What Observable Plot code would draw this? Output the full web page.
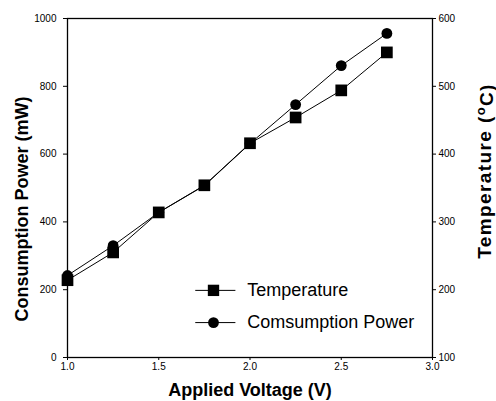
<!DOCTYPE html>
<html>
<head>
<meta charset="utf-8">
<script src="https://cdn.jsdelivr.net/npm/d3@7"></script>
<script src="https://cdn.jsdelivr.net/npm/@observablehq/plot@0.6"></script>
<style>
  html, body { margin: 0; padding: 0; background: #fff; }
  #chart svg { display: block; }
</style>
</head>
<body>
<div id="chart"></div>
<script>
// ---- data ----
const voltage = [1.0, 1.25, 1.5, 1.75, 2.0, 2.25, 2.5, 2.75];          // Applied Voltage (V)
const power = [242, 330, 428, 507, 631, 746, 861, 956];                // Consumption Power (mW)
const temperature = [214, 255, 314, 354, 416, 454, 494, 550];          // Temperature (°C)

const voltTicks = [1.0, 1.5, 2.0, 2.5, 3.0];
const powerTicks = [0, 200, 400, 600, 800, 1000];
const tempTicks = [100, 200, 300, 400, 500, 600];

const xTitle = "Applied Voltage (V)";
const yLeftTitle = "Consumption Power (mW)";
const yRightTitle = "Temperature (oC)";
const legendLabels = ["Temperature", "Comsumption Power"];

// right axis (100–600 °C) shares the frame with left axis (0–1000 mW)
const tToP = t => (t - 100) * 2;
const pToT = p => p / 2 + 100;

const rows = voltage.map((v, i) => ({v, p: power[i], t: temperature[i], tp: tToP(temperature[i])}));

// legend entries (positions in data space of the plot frame)
const legendSq = [{label: legendLabels[0], y: 198}];
const legendCi = [{label: legendLabels[1], y: 103}];
const legend = [...legendSq, ...legendCi];

const font = "'Liberation Sans', Arial, Helvetica, sans-serif";

const chart = Plot.plot({
  width: 496,
  height: 401,
  marginLeft: 67,
  marginRight: 64,
  marginTop: 18,
  marginBottom: 44,
  x: {domain: [1, 3]},
  y: {domain: [0, 1000]},
  style: {fontFamily: font, fontSize: "10px", color: "black", background: "white"},
  marks: [
    Plot.frame({stroke: "black", strokeWidth: 1.3}),
    Plot.axisY({ticks: powerTicks, tickSize: 4, tickPadding: 7, label: null, tickFormat: d => String(d)}),
    Plot.axisY({anchor: "right", ticks: tempTicks.map(tToP), tickSize: 3, tickPadding: 3, label: null, tickFormat: d => String(pToT(d))}),
    Plot.axisX({ticks: voltTicks, tickSize: 3, tickPadding: 2, label: null, tickFormat: d3.format(".1f")}),
    Plot.line(rows, {x: "v", y: "p", stroke: "black", strokeWidth: 1}),
    Plot.line(rows, {x: "v", y: "tp", stroke: "black", strokeWidth: 1}),
    Plot.dot(rows, {x: "v", y: "p", symbol: "circle", r: 5.4, fill: "black", stroke: null}),
    Plot.dot(rows, {x: "v", y: "tp", symbol: "square", r: 6.6, fill: "black", stroke: null}),
    // legend
    Plot.link(legend, {x1: 1.70, x2: 1.92, y1: "y", y2: "y", stroke: "black", strokeWidth: 1}),
    Plot.dot(legendSq, {x: 1.80, y: "y", symbol: "square", r: 6.4, fill: "black", stroke: null}),
    Plot.dot(legendCi, {x: 1.80, y: "y", symbol: "circle", r: 5.4, fill: "black", stroke: null}),
    Plot.text(legend, {x: 1.985, y: "y", text: "label", textAnchor: "start", fontSize: 18, fill: "black"}),
    // axis titles
    Plot.text([xTitle], {frameAnchor: "bottom", dy: 33, text: d => d, fontSize: 18, fontWeight: "bold", textAnchor: "middle", lineAnchor: "middle"}),
    Plot.text([yLeftTitle], {frameAnchor: "left", dx: -45, dy: 21, rotate: -90, text: d => d, fontSize: 18, fontWeight: "bold", textAnchor: "middle", lineAnchor: "middle"}),
    Plot.text([yRightTitle], {frameAnchor: "right", dx: 52, dy: -17, rotate: -90, text: d => d, fontSize: 19, fontWeight: "bold", textAnchor: "middle", lineAnchor: "middle"})
  ]
});

// superscript "o" in the right axis title
chart.querySelectorAll("text").forEach(el => {
  if (el.textContent === yRightTitle) {
    el.textContent = "";
    el.setAttribute("letter-spacing", "1.4");
    const ns = "http://www.w3.org/2000/svg";
    const a = document.createElementNS(ns, "tspan"); a.textContent = "Temperature (";
    const b = document.createElementNS(ns, "tspan"); b.textContent = "o"; b.setAttribute("dy", "-0.45em"); b.setAttribute("font-size", "13");
    const c = document.createElementNS(ns, "tspan"); c.textContent = "C)"; c.setAttribute("dy", "0.45em");
    el.append(a, b, c);
  }
});

document.getElementById("chart").append(chart);
</script>
</body>
</html>
